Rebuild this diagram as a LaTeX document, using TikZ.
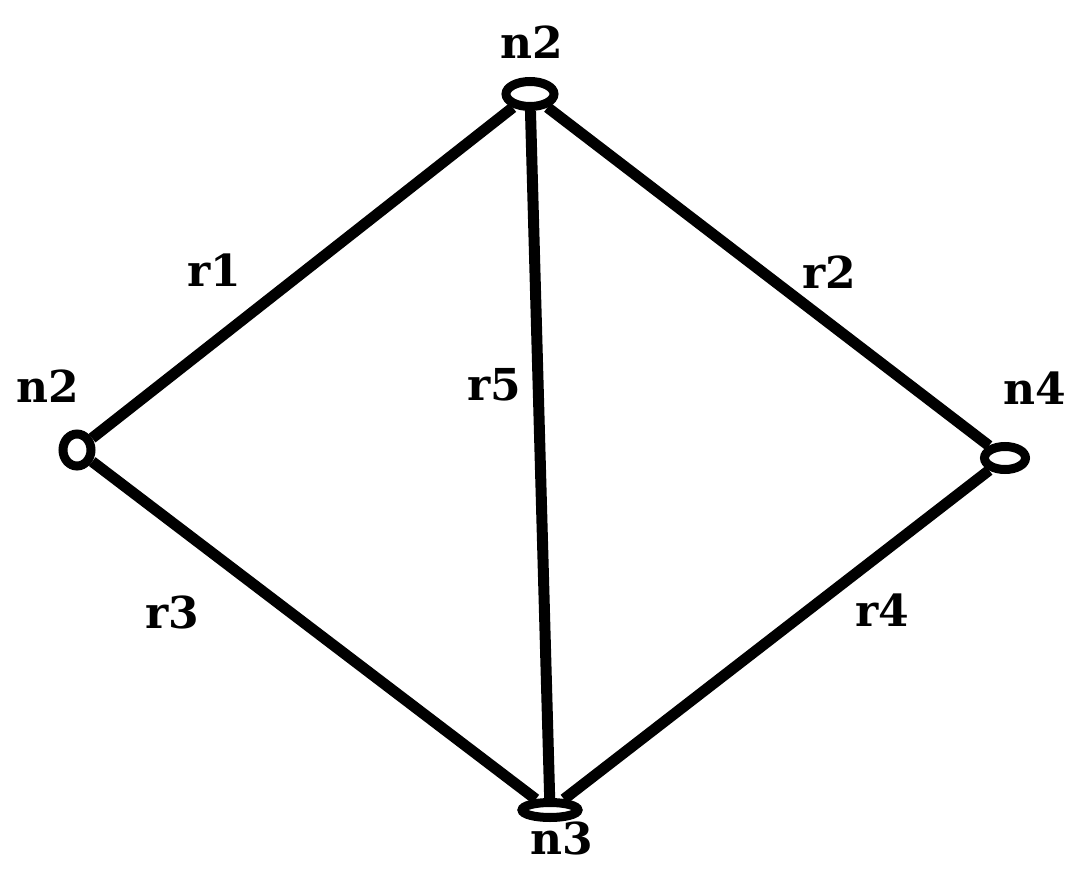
\documentclass[tikz,border=0pt]{standalone}
\usepackage{fontspec}
\setmainfont{DejaVu Serif}
\usepackage{tikz}
\usetikzlibrary{shapes.geometric,backgrounds}

\begin{document}
\begin{tikzpicture}[x=1pt, y=-1pt,
    router/.style={ellipse, draw=black, fill=white, line width=9pt, inner sep=0pt},
    link/.style={line width=11pt, black},
    lbl/.style={font=\bfseries\fontsize{44}{44}\selectfont, inner sep=0pt}]

\useasboundingbox (0,0) rectangle (1088,878);

% =====================
% Routers
% =====================
\node[router, minimum width=48pt, minimum height=25pt] (nTop)   at (530,94)  {};
\node[router, minimum width=28pt, minimum height=32pt] (nLeft)  at (77,450)  {};
\node[router, minimum width=41pt, minimum height=23pt] (nRight) at (1005,458) {};
\node[router, minimum width=56pt, minimum height=15pt] (nBot)   at (550,810) {};

% =====================
% Links
% =====================
\begin{pgfonlayer}{background}
\draw[link] (nLeft)  -- (nTop);
\draw[link] (nTop)   -- (nRight);
\draw[link] (nLeft)  -- (nBot);
\draw[link] (nRight) -- (nBot);
\draw[link] (nTop)   -- (nBot);
\end{pgfonlayer}

% =====================
% Router labels
% =====================
\node[lbl] (lTop)   at (532,42)   {n2};
\node[lbl] (lLeft)  at (48,386)   {n2};
\node[lbl] (lRight) at (1035,388) {n4};
\node[lbl] (lBot)   at (562,838)  {n3};

% =====================
% Link labels
% =====================
\node[lbl] (r1) at (214,270) {r1};
\node[lbl] (r2) at (829,272) {r2};
\node[lbl] (r3) at (172,612) {r3};
\node[lbl] (r4) at (882,610) {r4};
\node[lbl] (r5) at (494,385) {r5};

\end{tikzpicture}
\end{document}
